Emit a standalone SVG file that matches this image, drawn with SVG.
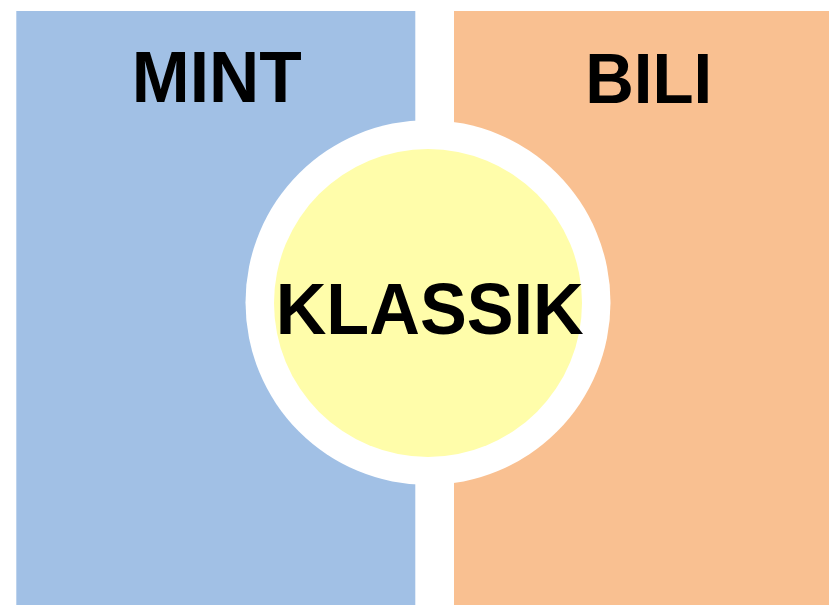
<svg xmlns="http://www.w3.org/2000/svg" width="829" height="605" viewBox="0 0 829 605">
<style>
.lbl{font-family:"Liberation Sans",Arial,Helvetica,sans-serif;font-weight:bold;fill:#000;text-anchor:middle}
</style>
<rect x="0" y="0" width="829" height="605" fill="#fff"/>
<g id="mint">
<rect x="16.3" y="11" width="399" height="594" fill="#A1C0E5"/>
<text class="lbl" x="216.7" y="102.3" font-size="72" textLength="170" lengthAdjust="spacingAndGlyphs">MINT</text>
</g>
<g id="bili">
<rect x="454" y="11" width="375" height="594" fill="#F9C091"/>
<text class="lbl" x="648.7" y="103.3" font-size="70" textLength="127" lengthAdjust="spacingAndGlyphs">BILI</text>
</g>
<g id="klassik">
<circle cx="428" cy="302.5" r="182.5" fill="#fff"/>
<circle cx="428" cy="303" r="154" fill="#FFFDAA"/>
<text class="lbl" x="429.7" y="334.3" font-size="72" textLength="308" lengthAdjust="spacingAndGlyphs">KLASSIK</text>
</g>
<g id="connectors"/>
</svg>
